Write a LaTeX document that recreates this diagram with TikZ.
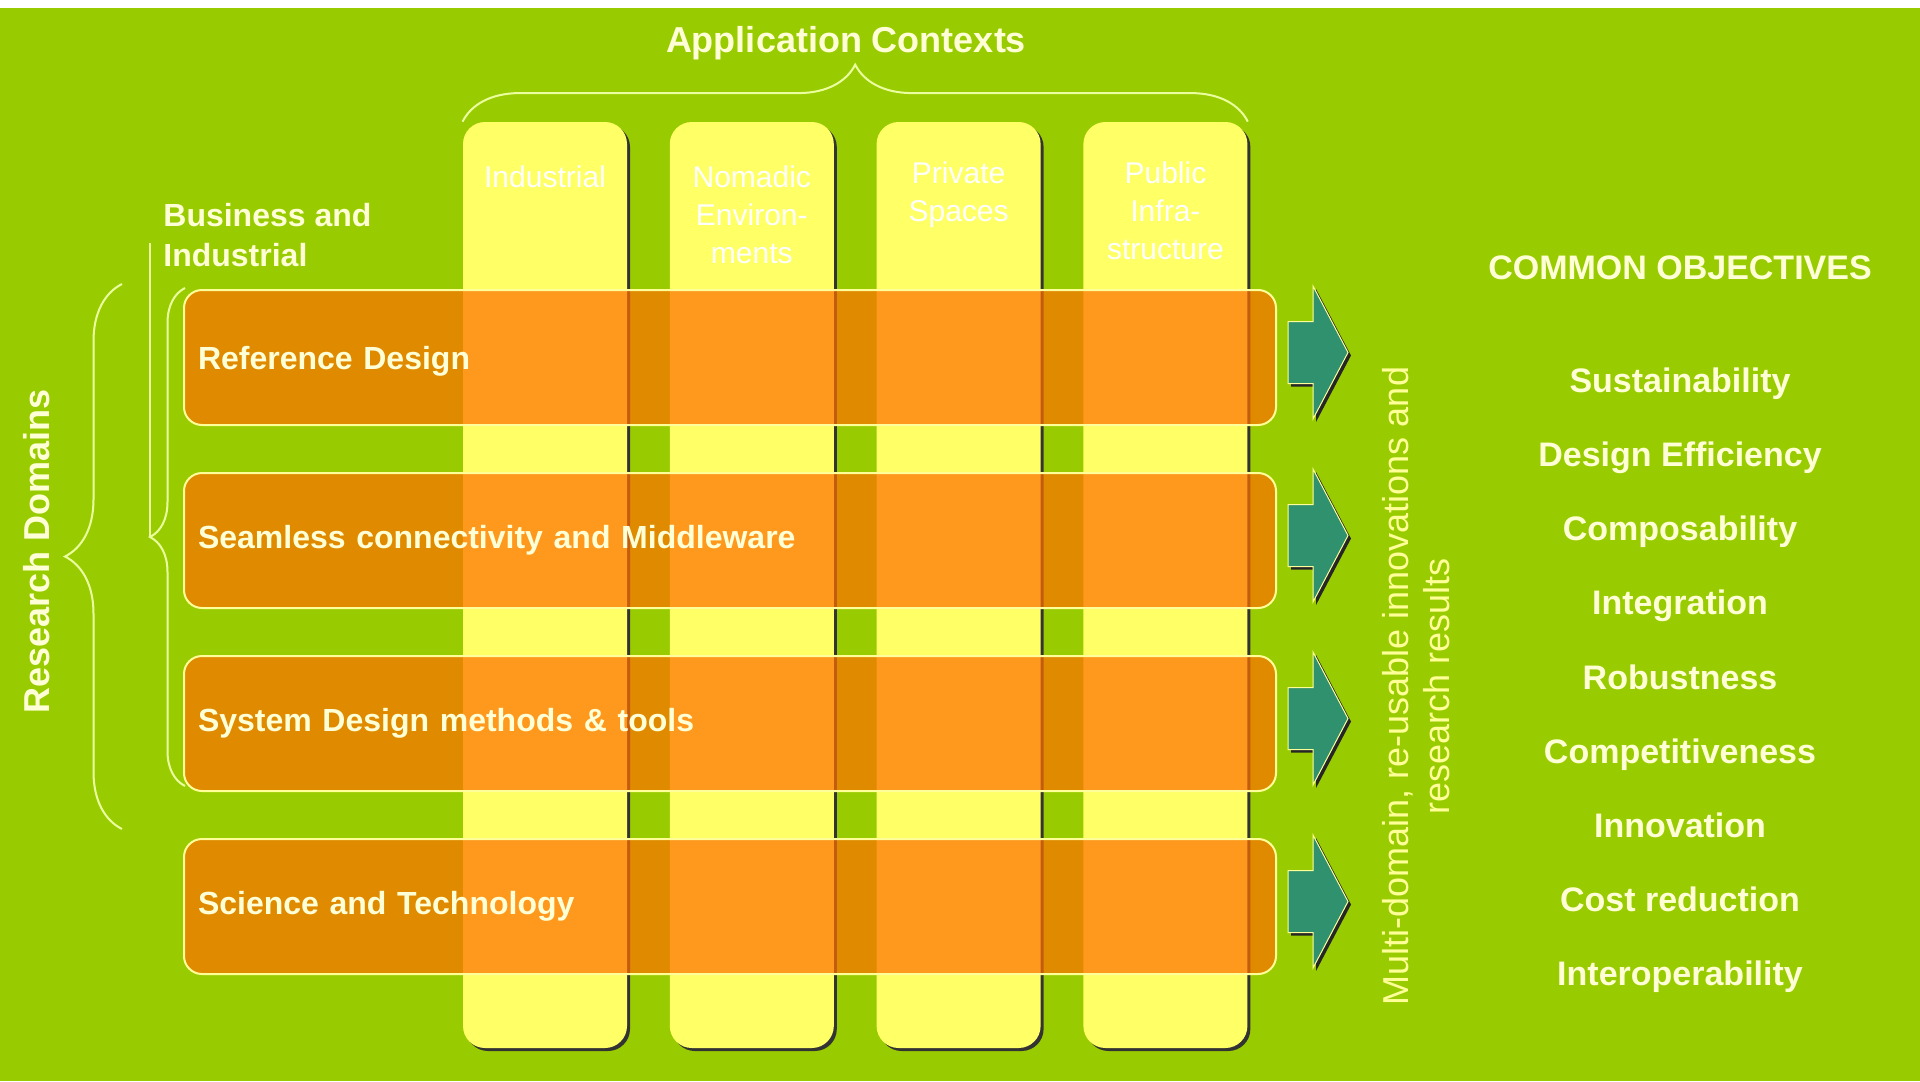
\documentclass[tikz,border=0pt]{standalone}
\usepackage{fontspec}
\setmainfont{Liberation Sans}
\usetikzlibrary{positioning, shadows, decorations.pathreplacing}

\definecolor{leaf}{RGB}{153,204,0}
\definecolor{lemon}{RGB}{255,255,102}
\definecolor{amber}{RGB}{255,110,0}
\definecolor{cream}{RGB}{255,255,215}
\definecolor{pale}{RGB}{255,255,153}
\definecolor{lime}{RGB}{235,255,160}
\definecolor{sea}{RGB}{48,145,110}

% стрелка-результат справа от полосы: хвост в #1, размеры в пикселях
\newcommand{\resultarrow}[1]{%
    \draw[result] (#1) ++(0,-31) -- ++(25,0) -- ++(0,-35.5) -- ++(35,66.5)
        -- ++(-35,66.5) -- ++(0,-35.5) -- ++(-25,0) -- cycle;}

\begin{document}
\begin{tikzpicture}[
        x=0.5pt, y=-0.5pt, % координаты в пикселях, ось y вниз
        col/.style={fill=lemon, rounded corners=11pt, minimum width=82pt, minimum height=463pt,
                drop shadow={shadow xshift=1.5pt, shadow yshift=-1.5pt, opacity=1, fill=black!80}}, % Столбцы
        colname/.style={inner sep=0pt, align=center, text=white, font=\fontsize{15}{19}\selectfont},
        bar/.style={fill=amber, fill opacity=0.7, text opacity=1, draw=pale, line width=1pt,
                rounded corners=9pt, minimum width=546pt, minimum height=67.5pt,
                text width=532pt, inner xsep=7pt, align=left, text=cream,
                font=\fontsize{16}{19}\selectfont\bfseries}, % Полосы доменов
        result/.style={fill=sea, draw=pale, line width=0.5pt, line join=miter,
                drop shadow={shadow xshift=1.5pt, shadow yshift=-1.5pt, opacity=1, fill=black!85}}, % Стрелки
        goal/.style={inner sep=0pt, anchor=base, text=cream, font=\fontsize{17}{20}\selectfont\bfseries},
        heading/.style={inner sep=0pt, text=cream, font=\fontsize{18}{22}\selectfont\bfseries},
        curly/.style={decorate, decoration={brace, amplitude=#1}, draw=lime, line width=1pt},
    ]

    % фон
    \useasboundingbox (0,0) rectangle (1920,1081);
    \fill[white] (0,0) rectangle (1920,8);
    \fill[leaf] (0,8) rectangle (1920,1081);

    \node[col] (c1) at (545,585) {};
    \node[col, right=21pt of c1] (c2) {};
    \node[col, right=21pt of c2] (c3) {};
    \node[col, right=21pt of c3] (c4) {};

    \node[colname, below=22pt of c1.north] (n1) {Industrial};
    \node[colname, below=22pt of c2.north] (n2) {Nomadic\\Environ-\\ments};
    \node[colname, below=20pt of c3.north] (n3) {Private\\Spaces};
    \node[colname, below=20pt of c4.north] (n4) {Public\\Infra-\\structure};

    \node[bar, text depth=0pt] (r1) at (730,357.5) {Reference Design};
    \node[bar, below=23pt of r1] (r2) {Seamless connectivity and Middleware};
    \node[bar, below=23pt of r2] (r3) {System Design methods \& tools};
    \node[bar, below=23pt of r3] (r4) {Science and Technology};

    \coordinate[right=5.5pt of r1, yshift=2.5pt] (a1);
    \coordinate[right=5.5pt of r2, yshift=2.5pt] (a2);
    \coordinate[right=5.5pt of r3, yshift=2.5pt] (a3);
    \coordinate[right=5.5pt of r4, yshift=2.5pt] (a4);
    \resultarrow{a1}
    \resultarrow{a2}
    \resultarrow{a3}
    \resultarrow{a4}

    % скобки
    \draw[curly=28.5pt] (c1.north west) -- (c4.north east);
    \node[heading] (ac) at (846,43) {Application Contexts};

    \coordinate (rdb) at (122,829);
    \coordinate (rdt) at (122,284);
    \draw[curly=28.5pt] (rdb) -- (rdt);
    \node[heading, rotate=90] (rd) at (37,551) {Research Domains};

    \coordinate (bib) at (185,786);
    \coordinate (bit) at (185,288);
    \draw[curly=17.5pt] (bib) -- (bit);
    \coordinate (bitip) at (150,537);
    \coordinate (bistem) at (150,243);
    \draw[lime, line width=1pt] (bitip) -- (bistem);
    \node[inner sep=0pt, anchor=west, align=left, text=cream,
        font=\fontsize{16}{20}\selectfont\bfseries] (bi) at (163,235) {Business and\\Industrial};

    \node[rotate=90, align=center, text=pale, font=\fontsize{18}{20.5}\selectfont] (md) at (1416,686)
        {Multi-domain, re-usable innovations and\\research results};

    % цели
    \node[goal] (co) at (1680,279) {COMMON OBJECTIVES};
    \node[goal] (o1) at (1680,392) {Sustainability};
    \node[goal] (o2) at (1680,466) {Design Efficiency};
    \node[goal] (o3) at (1680,540) {Composability};
    \node[goal] (o4) at (1680,614) {Integration};
    \node[goal] (o5) at (1680,689) {Robustness};
    \node[goal] (o6) at (1680,763) {Competitiveness};
    \node[goal] (o7) at (1680,837) {Innovation};
    \node[goal] (o8) at (1680,911) {Cost reduction};
    \node[goal] (o9) at (1680,985) {Interoperability};
\end{tikzpicture}
\end{document}
